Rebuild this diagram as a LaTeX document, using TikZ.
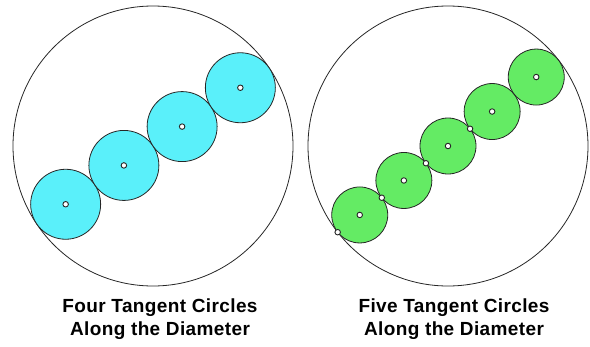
\documentclass[tikz,border=0pt]{standalone}
\usepackage{fontspec}
\setmainfont[LetterSpace=2]{Liberation Sans}
\definecolor{discblue}{RGB}{90,240,250}
\definecolor{discgreen}{RGB}{100,235,100}
\usepackage{tikz}
\usetikzlibrary{calc}

\begin{document}
\begin{tikzpicture}[x=1pt,y=-1pt,
    outer/.style={draw=black!85,line width=0.8pt},
    disc/.style={draw=black!85,line width=0.8pt},
    dot/.style={circle,draw=black!85,fill=white,line width=0.9pt,inner sep=0pt,minimum size=5.5pt},
    caption/.style={font=\bfseries\fontsize{19}{23}\selectfont,align=center}]
  \useasboundingbox (0,0) rectangle (590,346);

  % four tangent circles
  \coordinate (L) at (153,146);
  \draw[outer] (L) circle (140pt);
  \foreach \d [count=\i] in {-105,-35,35,105}
    \draw[disc,fill=discblue] ($(L)+(-33.7:\d)$) coordinate (l\i) circle (35pt);
  \foreach \i in {1,...,4}
    \node[dot] (ldot\i) at (l\i) {};

  % five tangent circles
  \coordinate (R) at (448,146);
  \draw[outer] (R) circle (140pt);
  \foreach \d [count=\i] in {-112,-56,0,56,112}
    \draw[disc,fill=discgreen] ($(R)+(-38:\d)$) coordinate (r\i) circle (28pt);
  \foreach \i in {1,...,5}
    \node[dot] (rdot\i) at (r\i) {};
  % tangent points
  \foreach \d [count=\i] in {-140,-84,-28,28}
    \node[dot] (tdot\i) at ($(R)+(-38:\d)$) {};

  \node[caption] (capL) at (160,319) {Four Tangent Circles\\Along the Diameter};
  \node[caption] (capR) at (454,319) {Five Tangent Circles\\Along the Diameter};
\end{tikzpicture}
\end{document}
